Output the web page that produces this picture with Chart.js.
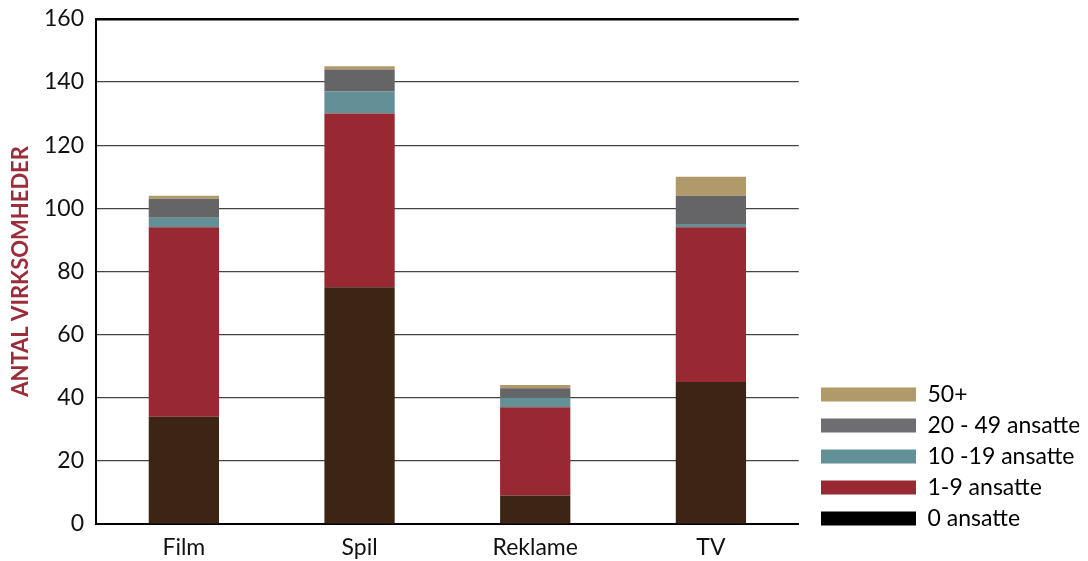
<!DOCTYPE html>
<html>
<head>
<meta charset="utf-8">
<script src="https://cdn.jsdelivr.net/npm/chart.js@4/dist/chart.umd.min.js"></script>
<style>
  html, body { margin: 0; padding: 0; background: #fff; }
  #wrap { width: 1088px; height: 561px; position: relative; }
</style>
</head>
<body>
<div id="wrap"><canvas id="virksomheder"></canvas></div>
<script>
// Virksomheder fordelt på antal ansatte
const kategorier = ['Film', 'Spil', 'Reklame', 'TV'];
const ansatte0 = [34, 75, 9, 45];
const ansatte1_9 = [60, 55, 28, 49];
const ansatte10_19 = [3, 7, 3, 1];
const ansatte20_49 = [6, 7, 3, 9];
const ansatte50 = [1, 1, 1, 6];
const yTicks = [0, 20, 40, 60, 80, 100, 120, 140, 160];

const skrift = 'Lato, "Noto Sans", sans-serif';

const serier = [
    { label: '0 ansatte', data: ansatte0, color: '#3d2516', legend: '#000000' },
    { label: '1-9 ansatte', data: ansatte1_9, color: '#982932', legend: '#982932' },
    { label: '10 -19 ansatte', data: ansatte10_19, color: '#638f96', legend: '#638f96' },
    { label: '20 - 49 ansatte', data: ansatte20_49, color: '#656567', legend: '#6e6e72' },
    { label: '50+', data: ansatte50, color: '#b09a69', legend: '#b09a69' }
];

// flytter forklaringen lidt væk fra plotområdet og ned mod x-aksen
const legendOffset = {
    id: 'legendOffset',
    afterLayout(chart) {
        const lg = chart.legend;
        if (!lg) return;
        const dx = 813 - lg.left;
        lg.left += dx;
        lg.right += dx;
        lg.bottom = chart.chartArea.bottom + 14;
    }
};

const ctx = document.getElementById('virksomheder').getContext('2d');
new Chart(ctx, {
    type: 'bar',
    data: {
        labels: kategorier,
        datasets: serier.map(s => ({
            label: s.label,
            data: s.data,
            backgroundColor: s.color,
            borderWidth: 0,
            barPercentage: 0.4,
            categoryPercentage: 1
        }))
    },
    plugins: [legendOffset],
    options: {
        responsive: true,
        maintainAspectRatio: false,
        animation: false,
        layout: { padding: { top: 0, right: 23, bottom: 0, left: 0 } },
        plugins: {
            tooltip: { enabled: false },
            legend: {
                position: 'right',
                align: 'end',
                reverse: true,
                labels: {
                    boxWidth: 95,
                    boxHeight: 14,
                    padding: 8,
                    color: '#111',
                    font: { family: skrift, size: 23 },
                    // sort felt for "0 ansatte" i forklaringen
                    generateLabels(chart) {
                        return chart.data.datasets.map((ds, i) => ({
                            text: ds.label,
                            fillStyle: serier[i].legend,
                            strokeStyle: serier[i].legend,
                            lineWidth: 0,
                            hidden: false,
                            datasetIndex: i
                        }));
                    }
                }
            }
        },
        scales: {
            x: {
                stacked: true,
                grid: { display: false, drawTicks: false },
                border: { color: '#000', width: 2 },
                ticks: { color: '#111', font: { family: skrift, size: 23, lineHeight: 0.7 }, padding: 16 },
                afterFit(scale) {
                    scale.height = 37;
                }
            },
            y: {
                stacked: true,
                min: 0,
                max: 160,
                afterBuildTicks(axis) {
                    axis.ticks = yTicks.map(v => ({ value: v }));
                },
                grid: {
                    drawTicks: false,
                    color: c => c.tick && c.tick.value === 160 ? '#000' : '#444',
                    lineWidth: c => c.tick && c.tick.value === 160 ? 2.5 : 1.2
                },
                border: { color: '#000', width: 2 },
                ticks: { color: '#111', font: { family: skrift, size: 23, lineHeight: 0.6 }, padding: 12 },
                title: {
                    display: true,
                    text: 'ANTAL VIRKSOMHEDER',
                    color: '#9b2d3a',
                    font: { family: skrift, size: 22, weight: 'bold', lineHeight: 1 },
                    padding: { top: 10, bottom: 0 }
                }
            }
        }
    }
});
</script>
</body>
</html>
